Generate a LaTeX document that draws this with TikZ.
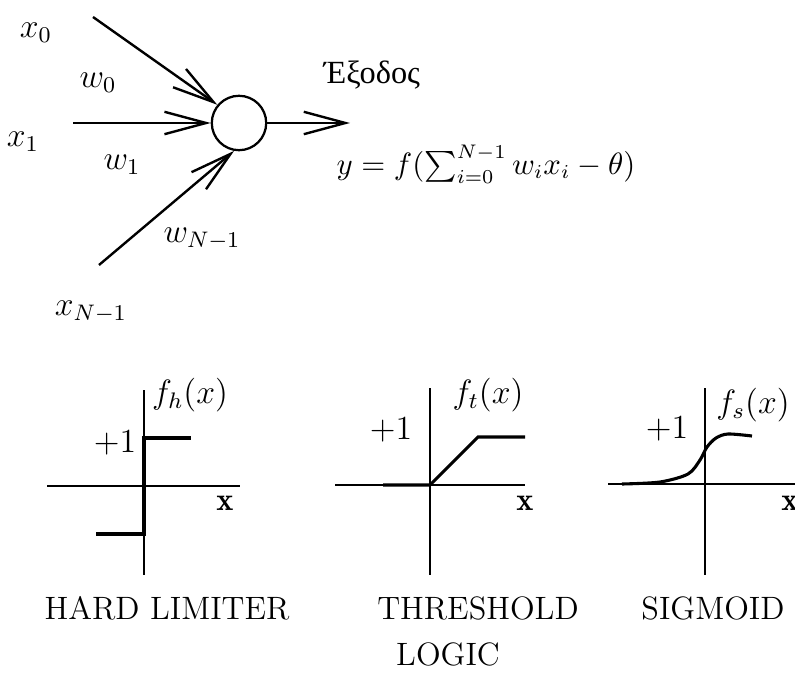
\documentclass[tikz,border=0pt]{standalone}
\usepackage{amsmath}
\usepackage{fontspec}
\newfontfamily\greekfont{Liberation Serif}
\usetikzlibrary{arrows.meta}
\tikzset{
  neuron/.style={circle, draw, line width=0.8pt, minimum size=0.68cm, inner sep=0pt},
  inarr/.style={-{Straight Barb[length=0.52cm, width=0.28cm]}, line width=0.85pt},
  ax/.style={line width=0.5pt},
  fn/.style={line width=1.1pt},
}

\begin{document}
\begin{tikzpicture}[
  x=0.0125cm, y=-0.0125cm,
  every node/.style={font=\fontsize{11.5}{14}\selectfont},
]
  \useasboundingbox (0,0) rectangle (795,679);
  % neuron with its inputs and output
  \node[neuron] (n) at (239,123) {};
  \coordinate (s0) at (93,17);
  \coordinate (s1) at (73,123);
  \coordinate (s2) at (99,265);
  \coordinate (out) at (350,123);
  \draw[inarr] (s0) -- (n.140);
  \draw[inarr] (s1) -- (n.west);
  \draw[inarr] (s2) -- (n.-100);
  \draw[inarr] (n.east) -- (out);
  \node (x0) at (36,33) {$x_0$};
  \node (w0) at (98,83) {$w_0$};
  \node (x1) at (23,142) {$x_1$};
  \node (w1) at (122,165) {$w_1$};
  \node (wn) at (202,239) {$w_{N-1}$};
  \node (xn) at (91,312) {$x_{N-1}$};
  \node (exit) at (372,75) {\greekfont Έξοδος};
  \node[font=\fontsize{10.5}{13}\selectfont] (eq) at (486,164)
    {$y = f(\sum_{i=0}^{N-1} w_i x_i - \theta)$};

  % hard limiter
  \draw[ax] (144,390) -- (144,575);
  \draw[ax] (47,486) -- (240,486);
  \draw[fn] (96,534) -- (144,534) -- (144,438) -- (191,438);
  \node (fh) at (190,395) {$f_h(x)$};
  \node (oneh) at (115,443) {$+1$};
  \node (xh) at (225,503) {$\mathbf{x}$};
  \node (hard) at (167,608) {HARD LIMITER};

  % threshold logic
  \draw[ax] (430,388) -- (430,575);
  \draw[ax] (335,485) -- (525,485);
  \draw[fn] (383,485) -- (430,485) -- (478,437) -- (525,437);
  \node (ft) at (488,395) {$f_t(x)$};
  \node (onet) at (391,430) {$+1$};
  \node (xt) at (525,503) {$\mathbf{x}$};
  \node (thr) at (478,608) {THRESHOLD};
  \node (logic) at (448,654) {LOGIC};

  % sigmoid
  \draw[ax] (705,388) -- (705,575);
  \draw[ax] (608,484) -- (800,484);
  \draw[fn] plot[smooth] coordinates {(622,484) (660,482) (688,474) (700,460)
    (707,447) (716,438) (728,434) (752,436)};
  \node (fs) at (753,405) {$f_s(x)$};
  \node (ones) at (667,429) {$+1$};
  \node (xs) at (790,503) {$\mathbf{x}$};
  \node (sig) at (713,608) {SIGMOID};
\end{tikzpicture}
\end{document}
